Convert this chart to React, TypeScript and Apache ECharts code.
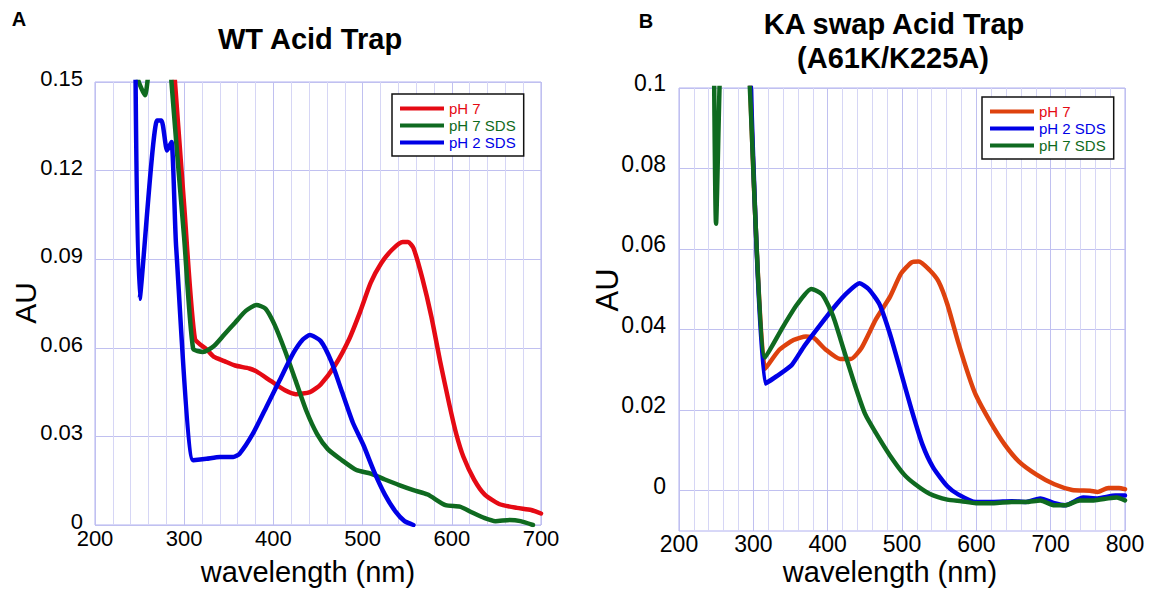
import React, { useEffect, useRef } from "react";
import * as echarts from "echarts";

// ---------- Data (wavelength nm, absorbance AU) ----------
// Panel A: WT Acid Trap
const wtPh7: [number, number][] = [
  [286, 0.165], [300, 0.108], [312, 0.063], [325, 0.0595], [333, 0.057], [345, 0.0555],
  [357, 0.054], [373, 0.053], [381, 0.052], [397, 0.0488], [413, 0.0456], [425, 0.0443],
  [441, 0.045], [453, 0.0476], [469, 0.054], [485, 0.063], [497, 0.072], [509, 0.082],
  [521, 0.0887], [533, 0.0932], [545, 0.0958], [551, 0.0958], [557, 0.0938], [567, 0.0835],
  [577, 0.0707], [587, 0.0553], [597, 0.0411], [605, 0.0308], [613, 0.0231], [625, 0.0154],
  [637, 0.0103], [653, 0.0071], [673, 0.0058], [689, 0.0051], [700, 0.0039],
];
const wtPh7Sds: [number, number][] = [
  [244, 0.16], [248, 0.151], [256, 0.1455], [261, 0.156], [270, 0.175], [282, 0.175],
  [285.7, 0.15], [300, 0.097], [310, 0.0597], [321, 0.0586], [333, 0.0605], [345, 0.0645],
  [357, 0.0685], [369, 0.0725], [381, 0.0745], [391, 0.0733], [401, 0.068], [413, 0.059],
  [425, 0.0488], [437, 0.0386], [449, 0.0308], [461, 0.0257], [477, 0.0219], [493, 0.0186],
  [509, 0.0174], [525, 0.0154], [541, 0.0135], [557, 0.0118], [573, 0.0103], [593, 0.0067],
  [609, 0.0062], [621, 0.0045], [637, 0.0023], [649, 0.0013], [665, 0.0017], [677, 0.0013],
  [691, 0.0],
];
const wtPh2Sds: [number, number][] = [
  [245, 0.17], [250, 0.0766], [269.6, 0.137], [274.5, 0.137], [280.8, 0.1268], [285.7, 0.1297],
  [291, 0.094], [310, 0.0219], [325, 0.0224], [340, 0.023], [355, 0.023], [362, 0.0241],
  [377, 0.0309], [392, 0.0399], [407, 0.049], [422, 0.058], [433, 0.0628], [441, 0.0643],
  [453, 0.0623], [465, 0.0553], [477, 0.045], [489, 0.0347], [501, 0.027], [513, 0.018],
  [525, 0.0103], [537, 0.0045], [547, 0.0013], [557, 0.0],
];

// Panel B: KA swap Acid Trap (A61K/K225A)
const kaPh7: [number, number][] = [
  [294, 0.11], [316, 0.0303], [335, 0.035], [354, 0.0374], [371, 0.0383], [381, 0.038],
  [397.6, 0.035], [416.8, 0.0327], [431, 0.0327], [445.7, 0.0355], [465, 0.0426], [484, 0.0482],
  [498.6, 0.0539], [513, 0.0567], [522.6, 0.0569], [537, 0.0548], [549, 0.052], [561, 0.0463],
  [575.5, 0.0369], [590, 0.0284], [599.5, 0.0237], [618.8, 0.0171], [638, 0.0115], [657, 0.0073],
  [681, 0.004], [705, 0.0016], [729, 0.0002], [753, 0.0], [763, -0.0003], [777.4, 0.0007],
  [791.8, 0.0007], [800, 0.0004],
];
const kaPh2Sds: [number, number][] = [
  [295, 0.11], [316, 0.0266], [335, 0.0289], [352, 0.0313], [368.8, 0.036], [388, 0.0407],
  [412, 0.0463], [426.4, 0.0492], [443, 0.0515], [455, 0.0501], [469.7, 0.0463], [484, 0.0388],
  [498.6, 0.0294], [513, 0.02], [527.4, 0.0115], [541.8, 0.0058], [561, 0.0011], [575.5, -0.0009],
  [599.5, -0.0028], [623.6, -0.0028], [647.6, -0.0026], [666.8, -0.0028], [686, -0.0019],
  [705, -0.0031], [719.7, -0.0036], [743.8, -0.0017], [763, -0.0019], [787, -0.0012], [800, -0.0012],
];
const kaPh7Sds: [number, number][] = [
  [246.5, 0.12], [249.8, 0.0663], [258, 0.12], [270, 0.13], [285, 0.13], [294, 0.105],
  [316, 0.0331], [339.9, 0.0407], [359, 0.0463], [378, 0.0501], [392.8, 0.0487], [407, 0.0435],
  [421.6, 0.035], [436, 0.0266], [450.5, 0.019], [465, 0.0143], [484, 0.0087], [503, 0.004],
  [517.8, 0.0016], [537, -0.00075], [561, -0.0022], [580, -0.0026], [599.5, -0.0031],
  [623.6, -0.0031], [647.6, -0.0028], [666.8, -0.0028], [686, -0.0024], [705, -0.0036],
  [719.7, -0.0036], [739, -0.0024], [758, -0.0024], [777.4, -0.0019], [789, -0.0017], [800, -0.0024],
];

// Axis definitions
const leftX = { min: 200, max: 700, interval: 100 };
const leftY = { min: 0, max: 0.15, interval: 0.03 };
const rightX = { min: 200, max: 800, interval: 100 };
const rightY = { min: -0.01, max: 0.1, interval: 0.01 };

const legendA = ["pH 7", "pH 7 SDS", "pH 2 SDS"];
const legendB = ["pH 7", "pH 2 SDS", "pH 7 SDS"];

const FONT = 'Arial, "Liberation Sans", Helvetica, sans-serif';
const RED = "#e50a14";
const ORANGE = "#de420e";
const GREEN = "#0f6a20";
const BLUE = "#0000e6";
const GRID_MAJOR = "#c0c0f0";
const GRID_MINOR = "#d6d6f5";
const BORDER = "#b0b0f0";

export default function App() {
  const ref = useRef<HTMLDivElement>(null);

  useEffect(() => {
    if (!ref.current) return;
    const chart = echarts.init(ref.current, undefined, { renderer: "svg" });

    const fmt = (v: number) => String(+v.toFixed(3));
    const axisLabelStyle = { color: "#000", fontFamily: FONT };

    const mkSeries = (
      name: string,
      data: [number, number][],
      color: string,
      idx: number
    ) => ({
      type: "line",
      name,
      data,
      xAxisIndex: idx,
      yAxisIndex: idx,
      showSymbol: false,
      symbol: "none",
      smooth: 0.2,
      clip: true,
      z: 3,
      color,
      itemStyle: { color },
      lineStyle: { color, width: 4.5, cap: "round", join: "round" },
    });

    const legendCommon = {
      orient: "vertical",
      selectedMode: false,
      icon: "rect",
      itemWidth: 44,
      itemHeight: 4,
      itemGap: 0,
      padding: [6, 8, 5, 8],
      borderColor: "#111",
      borderWidth: 1.5,
      backgroundColor: "#fff",
      formatter: (n: string) => n.replace(/^[AB] /, ""),
      textStyle: { fontFamily: FONT, fontSize: 15, lineHeight: 17 },
    };

    const textColor: Record<string, string> = { "pH 7": RED, "pH 7 SDS": GREEN, "pH 2 SDS": BLUE };

    const text = (
      t: string,
      x: number,
      y: number,
      font: string,
      rotation = 0
    ) => ({
      type: "text",
      x,
      y,
      rotation,
      silent: true,
      style: {
        text: t,
        font,
        fill: "#000",
        textAlign: "center",
        textVerticalAlign: "middle",
      },
    });

    chart.setOption({
      animation: false,
      backgroundColor: "#fff",
      grid: [
        { left: 95, top: 82, width: 446, height: 443, show: true, borderColor: BORDER, borderWidth: 1, backgroundColor: "transparent" },
        { left: 679, top: 88, width: 446, height: 443, show: true, borderColor: BORDER, borderWidth: 1, backgroundColor: "transparent" },
      ],
      xAxis: [
        {
          type: "value", gridIndex: 0, ...leftX,
          axisLine: { show: false }, axisTick: { show: false },
          axisLabel: { ...axisLabelStyle, fontSize: 22, margin: 2, formatter: fmt },
          splitLine: { show: true, lineStyle: { color: GRID_MAJOR, width: 1 } },
          minorTick: { show: false, splitNumber: 5 },
          minorSplitLine: { show: true, lineStyle: { color: GRID_MINOR, width: 1 } },
        },
        {
          type: "value", gridIndex: 1, ...rightX,
          axisLine: { show: false }, axisTick: { show: false },
          axisLabel: { ...axisLabelStyle, fontSize: 23, margin: 1, formatter: fmt },
          splitLine: { show: true, lineStyle: { color: GRID_MAJOR, width: 1 } },
          minorTick: { show: false, splitNumber: 5 },
          minorSplitLine: { show: true, lineStyle: { color: GRID_MINOR, width: 1 } },
        },
      ],
      yAxis: [
        {
          type: "value", gridIndex: 0, ...leftY,
          axisLine: { show: false }, axisTick: { show: false },
          axisLabel: { ...axisLabelStyle, fontSize: 22, margin: 12, verticalAlign: "bottom", lineHeight: 7, formatter: fmt },
          splitLine: { show: true, lineStyle: { color: GRID_MAJOR, width: 1 } },
        },
        {
          type: "value", gridIndex: 1, ...rightY,
          axisLine: { show: false }, axisTick: { show: false },
          axisLabel: {
            ...axisLabelStyle, fontSize: 23, margin: 13, verticalAlign: "bottom", lineHeight: 10,
            formatter: (v: number) => (Math.round(v * 100) % 2 === 0 ? fmt(v) : ""),
          },
          splitLine: { show: true, lineStyle: { color: ["rgba(0,0,0,0)", GRID_MAJOR], width: 1 } },
        },
      ],
      legend: [
        {
          ...legendCommon,
          left: 392,
          top: 94,
          data: legendA.map((n) => ({ name: "A " + n, textStyle: { color: textColor[n] } })),
        },
        {
          ...legendCommon,
          left: 982,
          top: 97,
          data: legendB.map((n) => ({ name: "B " + n, textStyle: { color: textColor[n] } })),
        },
      ],
      series: [
        mkSeries("A pH 7", wtPh7, RED, 0),
        mkSeries("A pH 7 SDS", wtPh7Sds, GREEN, 0),
        mkSeries("A pH 2 SDS", wtPh2Sds, BLUE, 0),
        mkSeries("B pH 7", kaPh7, ORANGE, 1),
        mkSeries("B pH 2 SDS", kaPh2Sds, BLUE, 1),
        mkSeries("B pH 7 SDS", kaPh7Sds, GREEN, 1),
      ],
      graphic: [
        text("A", 19, 19, `bold 20px ${FONT}`),
        text("B", 646, 21, `bold 20px ${FONT}`),
        text("WT Acid Trap", 310, 39, `bold 29px ${FONT}`),
        text("KA swap Acid Trap", 894, 24, `bold 29px ${FONT}`),
        text("(A61K/K225A)", 893, 58, `bold 29px ${FONT}`),
        text("AU", 25, 303, `30px ${FONT}`, Math.PI / 2),
        text("AU", 607, 290, `31px ${FONT}`, Math.PI / 2),
        text("wavelength (nm)", 308, 572, `29px ${FONT}`),
        text("wavelength (nm)", 890, 572, `29px ${FONT}`),
      ],
    });

    return () => chart.dispose();
  }, []);

  return (
    <div
      ref={ref}
      style={{ position: "absolute", left: 0, top: 0, width: 1151, height: 596 }}
    />
  );
}
